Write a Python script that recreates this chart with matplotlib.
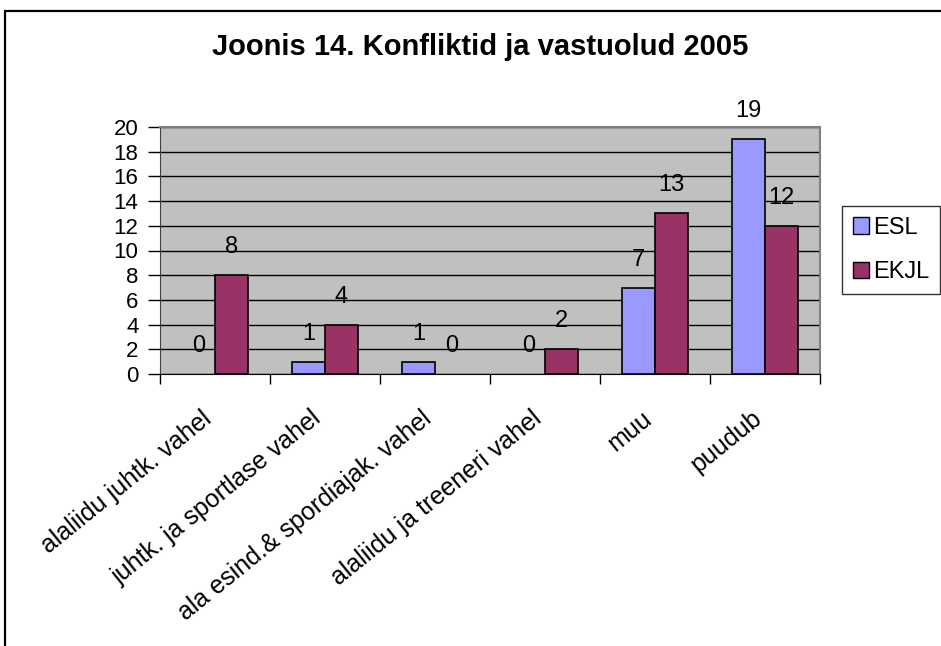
import matplotlib
matplotlib.use("Agg")
import matplotlib.pyplot as plt
from matplotlib.patches import Rectangle, Patch
from matplotlib.transforms import ScaledTranslation
import numpy as np

categories = ["alaliidu juhtk. vahel", "juhtk. ja sportlase vahel",
              "ala esind.& spordiajak. vahel", "alaliidu ja treeneri vahel",
              "muu", "puudub"]
esl = [0, 1, 1, 0, 7, 19]
ekjl = [8, 4, 0, 2, 13, 12]
series_names = ["ESL", "EKJL"]
yticks = list(range(0, 21, 2))

plt.rcParams['font.family'] = ['Liberation Sans', 'DejaVu Sans']

fig = plt.figure(figsize=(9.41, 6.46), dpi=100)
W, H = 941, 646

# figure border
fig.patches.append(Rectangle((5 / W, -0.1), 1.1, (H - 11) / H + 0.1,
                             transform=fig.transFigure, fill=False,
                             edgecolor='black', linewidth=1.6))

ax = fig.add_axes([160 / W, 1 - 374 / H, 660 / W, (374 - 127) / H])
ax.set_facecolor('#C0C0C0')
x = np.arange(len(categories)) + 0.5
bw = 0.3
c1, c2 = '#9999FF', '#993366'
b1 = ax.bar(x - bw / 2, esl, bw, color=c1, edgecolor='black',
            linewidth=[1.2 if v else 0 for v in esl], zorder=3)
b2 = ax.bar(x + bw / 2, ekjl, bw, color=c2, edgecolor='black',
            linewidth=[1.2 if v else 0 for v in ekjl], zorder=3)

ax.set_xlim(0, len(categories))
ax.set_ylim(0, 20)
ax.set_yticks(yticks)
ax.set_yticklabels([str(t) for t in yticks], fontsize=16)
ax.yaxis.grid(True, color='black', linewidth=1, zorder=1)
ax.set_axisbelow(True)
ax.tick_params(axis='y', length=8.5, width=1, pad=7, color='black')

ax.set_xticks(np.arange(len(categories) + 1))
ax.set_xticklabels([])
ax.tick_params(axis='x', which='major', length=7, width=1, color='black')

offset = ScaledTranslation(-2 / 100, -47 / 100, fig.dpi_scale_trans)
for xc, lab in zip(x, categories):
    ax.text(xc, 0, lab, rotation=39, ha='right', va='baseline',
            rotation_mode='anchor', fontsize=18,
            transform=ax.transData + offset, clip_on=False)

for s in ['top', 'right']:
    ax.spines[s].set_color('#808080')
    ax.spines[s].set_linewidth(1.5)
ax.spines['left'].set_color('#404040')
ax.spines['bottom'].set_color('black')

for bars, vals in ((b1, esl), (b2, ekjl)):
    for rect, v in zip(bars, vals):
        ax.annotate(str(v), (rect.get_x() + rect.get_width() / 2, v),
                    xytext=(0, 28), textcoords='offset pixels',
                    ha='center', va='center', fontsize=17, zorder=5,
                    annotation_clip=False)

fig.text(480 / W, 1 - 47 / H, "Joonis 14. Konfliktid ja vastuolud 2005",
         ha='center', va='center', fontsize=21, fontweight='bold')

handles = [Patch(facecolor=c1, edgecolor='black', linewidth=1),
           Patch(facecolor=c2, edgecolor='black', linewidth=1)]
leg = fig.legend(handles, series_names, loc='center left',
                 bbox_to_anchor=(842 / W, 1 - 250 / H), fontsize=17,
                 frameon=True, fancybox=False, edgecolor='black',
                 handlelength=0.7, handleheight=0.7, handletextpad=0.15,
                 borderpad=0.45, labelspacing=0.95, borderaxespad=0)
leg.get_frame().set_linewidth(1)

fig.savefig('out.png', dpi=100)
